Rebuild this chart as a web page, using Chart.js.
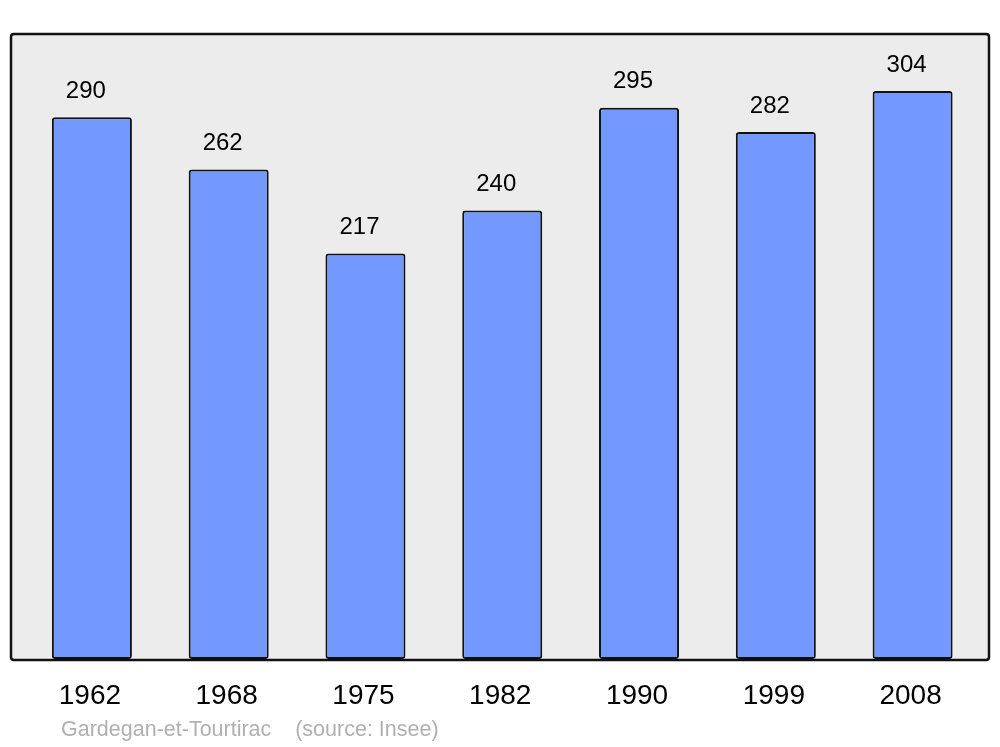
<!DOCTYPE html>
<html>
<head>
<meta charset="utf-8">
<script src="https://cdn.jsdelivr.net/npm/chart.js@4"></script>
<style>
  html, body { margin: 0; padding: 0; background: #fff; }
  #wrap { width: 1000px; height: 747px; }
</style>
</head>
<body>
<div id="wrap"><canvas id="popChart" width="1000" height="747"></canvas></div>
<script>
// Population history — Gardegan-et-Tourtirac
const years = ['1962', '1968', '1975', '1982', '1990', '1999', '2008'];
const population = [290, 262, 217, 240, 295, 282, 304];
const footerText = 'Gardegan-et-Tourtirac    (source: Insee)';

function roundRect(ctx, x, y, w, h, r) {
  ctx.beginPath();
  ctx.moveTo(x + r, y);
  ctx.lineTo(x + w - r, y);
  ctx.quadraticCurveTo(x + w, y, x + w, y + r);
  ctx.lineTo(x + w, y + h - r);
  ctx.quadraticCurveTo(x + w, y + h, x + w - r, y + h);
  ctx.lineTo(x + r, y + h);
  ctx.quadraticCurveTo(x, y + h, x, y + h - r);
  ctx.lineTo(x, y + r);
  ctx.quadraticCurveTo(x, y, x + r, y);
  ctx.closePath();
}

const framePlugin = {
  id: 'frame',
  beforeDatasetsDraw(chart) {
    const { ctx, chartArea } = chart;
    ctx.save();
    roundRect(ctx, chartArea.left - 12.5, chartArea.top, chartArea.width + 20.5, chartArea.height + 1, 3);
    ctx.fillStyle = '#ececec';
    ctx.fill();
    ctx.restore();
  },
  afterDatasetsDraw(chart) {
    const { ctx, chartArea } = chart;
    const meta = chart.getDatasetMeta(0);
    const xScale = chart.scales.x;

    ctx.save();
    roundRect(ctx, chartArea.left - 12.5, chartArea.top, chartArea.width + 20.5, chartArea.height + 1, 3);
    ctx.lineWidth = 2.5;
    ctx.strokeStyle = '#111';
    ctx.stroke();

    // value labels over bars
    ctx.fillStyle = '#000';
    ctx.textAlign = 'center';
    ctx.textBaseline = 'middle';
    ctx.font = '24px "Liberation Sans", Arial, sans-serif';
    meta.data.forEach((bar, i) => {
      ctx.fillText(String(population[i]), bar.x - 6, bar.y - 26);
    });

    // year labels
    ctx.font = '28px "Liberation Sans", Arial, sans-serif';
    years.forEach((y, i) => {
      ctx.fillText(y, xScale.getPixelForValue(i) - 2, chartArea.bottom + 37);
    });

    // source line
    ctx.textAlign = 'left';
    ctx.fillStyle = '#b0b0b0';
    ctx.font = '21.5px "Liberation Sans", Arial, sans-serif';
    ctx.fillText(footerText, 61, chartArea.bottom + 71);
    ctx.restore();
  }
};

new Chart(document.getElementById('popChart'), {
  type: 'bar',
  data: {
    labels: years,
    datasets: [{
      label: 'Population',
      data: population,
      backgroundColor: '#7399ff',
      borderColor: '#111',
      borderWidth: 2,
      borderRadius: 3,
      borderSkipped: false,
      barPercentage: 0.585,
      categoryPercentage: 1
    }]
  },
  options: {
    responsive: false,
    animation: false,
    layout: { padding: { left: 23.5, right: 19, top: 34, bottom: 88 } },
    plugins: {
      legend: { display: false },
      tooltip: { enabled: false }
    },
    scales: {
      x: { display: false },
      y: { display: false, min: 0, max: 334.5 }
    }
  },
  plugins: [framePlugin]
});
</script>
</body>
</html>
